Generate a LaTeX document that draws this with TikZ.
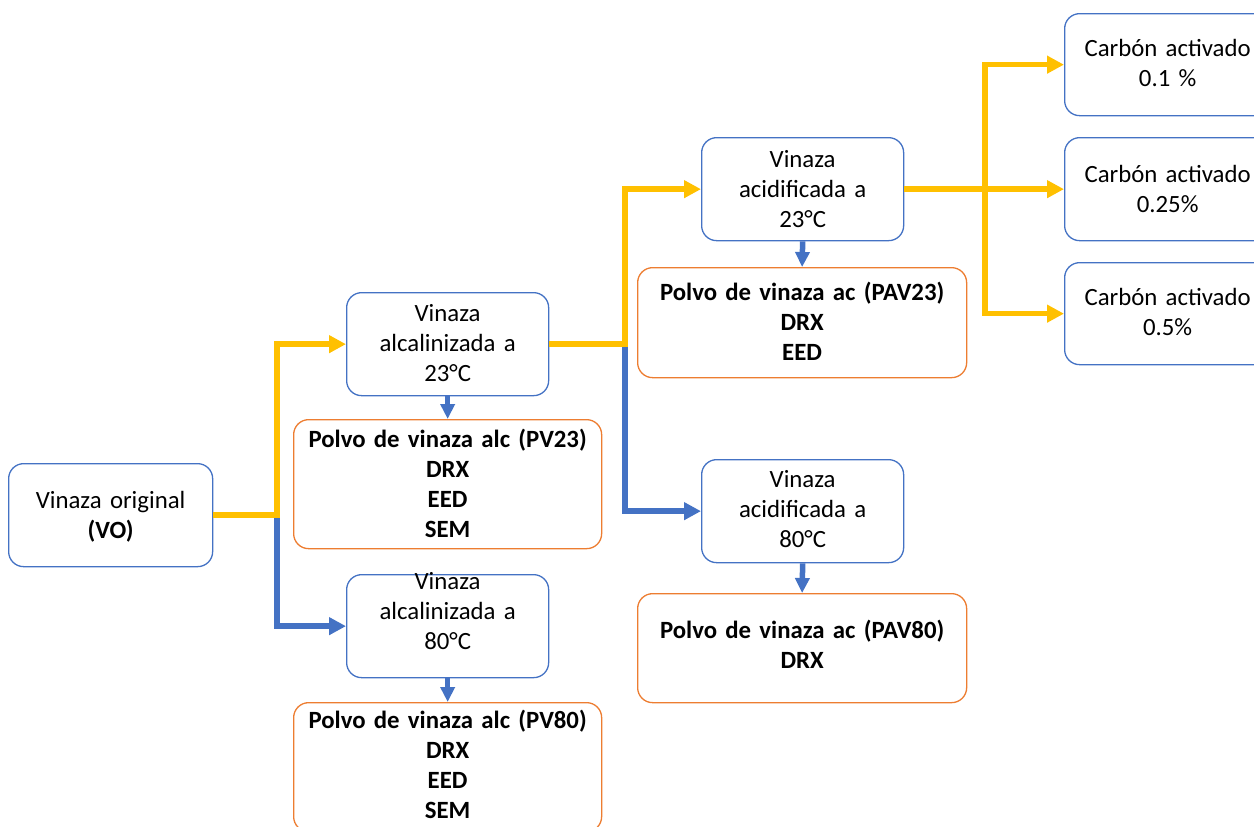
\documentclass[tikz,border=0pt]{standalone}
\usepackage{fontspec}
\setmainfont{Carlito}
\usetikzlibrary{arrows.meta}
\definecolor{yel}{HTML}{FFC000}
\definecolor{blu}{HTML}{4472C4}
\definecolor{ora}{HTML}{ED7D31}
\begin{document}
\begin{tikzpicture}[x=1pt,y=-1pt,
  box/.style={draw, rounded corners=15pt, line width=1.3pt, inner sep=0pt,
    anchor=north west, align=center, font=\fontsize{24.8pt}{30pt}\selectfont},
  bbox/.style={box, draw=blu},
  obox/.style={box, draw=ora, font=\fontsize{24.8pt}{30pt}\selectfont\bfseries},
  yline/.style={draw=yel, line width=5.5pt, -{Triangle[length=17pt,width=17pt]}},
  bline/.style={draw=blu, line width=5.5pt, -{Triangle[length=17pt,width=17pt]}},
  short/.style={draw=blu, line width=5.5pt, -{Triangle[length=15pt,width=14pt]}}
]
\useasboundingbox (0,0) rectangle (1254,827);
\clip (0,0) rectangle (1254,827);
\fill[white] (0,0) rectangle (1254,827);

\node[bbox, text width=204pt, text height=45pt, text depth=58pt] (VO) at (8,463) {Vinaza original\\\textbf{(VO)}};
\node[bbox, text width=202pt, text height=29pt, text depth=74pt] (A23) at (346,292) {Vinaza\\alcalinizada a\\23°C};
\node[obox, text width=308pt, text height=28pt, text depth=101pt] (PV23) at (293,419) {Polvo de vinaza alc (PV23)\\DRX\\EED\\SEM};
\node[bbox, text width=202pt, text height=15pt, text depth=88pt] (A80) at (346,574) {Vinaza\\alcalinizada a\\80°C};
\node[obox, text width=308pt, text height=26pt, text depth=103pt] (PV80) at (293,702) {Polvo de vinaza alc (PV80)\\DRX\\EED\\SEM};
\node[bbox, text width=202pt, text height=30pt, text depth=73pt] (Ac23) at (701,137) {Vinaza\\acidificada a\\23°C};
\node[obox, text width=329pt, text height=33pt, text depth=77pt] (PAV23) at (637,267) {Polvo de vinaza ac (PAV23)\\DRX\\EED};
\node[bbox, text width=202pt, text height=28pt, text depth=75pt] (Ac80) at (701,459) {Vinaza\\acidificada a\\80°C};
\node[obox, text width=329pt, text height=45pt, text depth=64pt] (PAV80) at (637,593) {Polvo de vinaza ac (PAV80)\\DRX};
\node[bbox, text width=206pt, text height=43pt, text depth=59pt] (C1) at (1064,13) {Carbón activado\\0.1 \%};
\node[bbox, text width=206pt, text height=45pt, text depth=58pt] (C2) at (1064,137) {Carbón activado\\0.25\%};
\node[bbox, text width=206pt, text height=43pt, text depth=59pt] (C3) at (1064,262) {Carbón activado\\0.5\%};

\coordinate (j1) at (277,0);
\coordinate (j2) at (625,0);
\coordinate (j3) at (985,0);

% blue branches (under yellow)
\draw[bline] (VO.east -| j1) |- (A80.west);
\draw[bline] (A23.east -| j2) |- (Ac80.west);
% yellow branches
\draw[yline] (VO.east) -- (VO.east -| j1) |- (A23.west);
\draw[yline] (A23.east) -- (A23.east -| j2) |- (Ac23.west);
\draw[yline] (Ac23.east -| j3) |- (C1.west);
\draw[yline] (Ac23.east -| j3) |- (C3.west);
\draw[yline] (Ac23.east) -- (C2.west);
% short blue arrows
\draw[short] (A23.south) -- (PV23.north);
\draw[short] (A80.south) -- (PV80.north);
\draw[short] (Ac23.south) -- (PAV23.north);
\draw[short] (Ac80.south) -- (PAV80.north);
\end{tikzpicture}
\end{document}
